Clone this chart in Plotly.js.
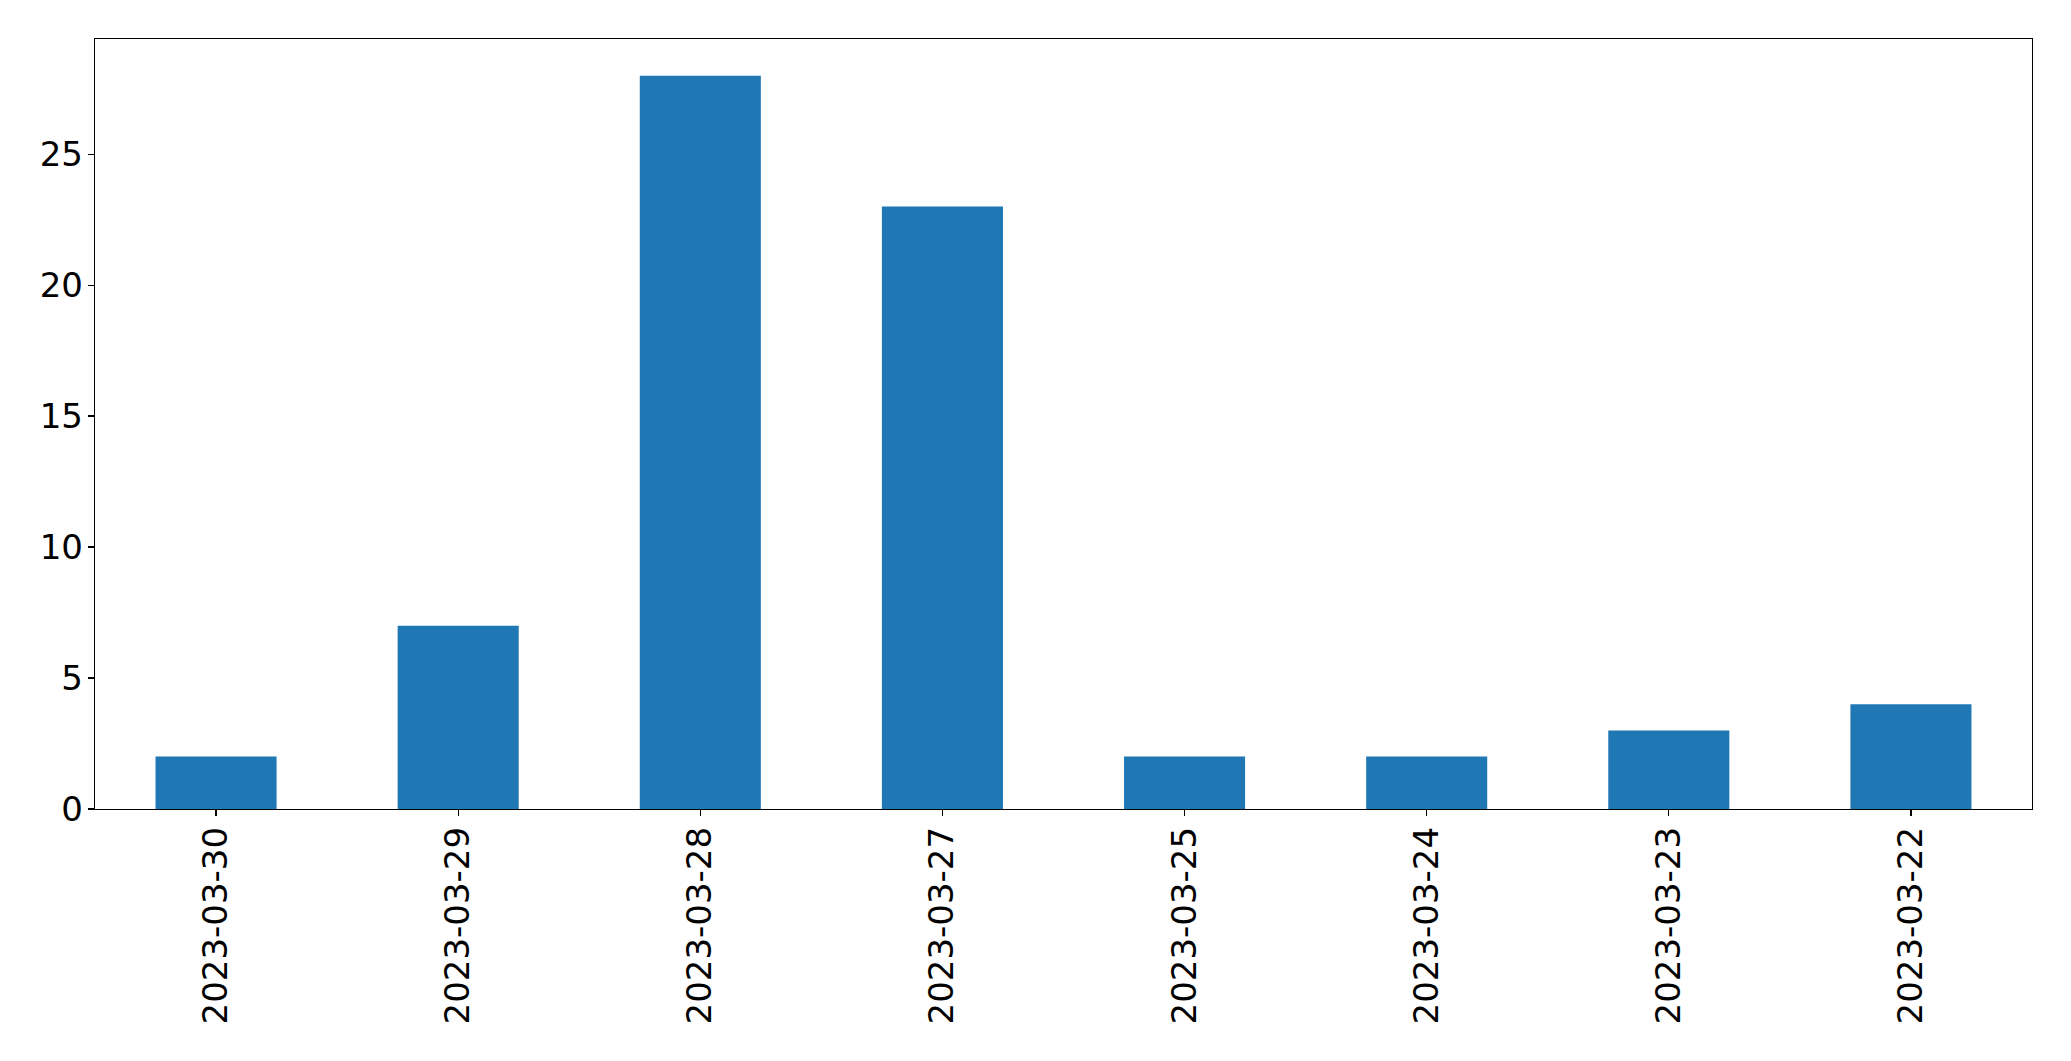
<!DOCTYPE html>
<html>
<head>
<meta charset="utf-8">
<script src="https://cdn.plot.ly/plotly-3.0.1.min.js"></script>
<style>
html,body{margin:0;padding:0;background:#fff;}
#chart{width:2071px;height:1061px;}
</style>
</head>
<body>
<div id="chart"></div>
<script>
const dates = ["2023-03-30","2023-03-29","2023-03-28","2023-03-27","2023-03-25","2023-03-24","2023-03-23","2023-03-22"];
const counts = [2, 7, 28, 23, 2, 2, 3, 4];
const yTicks = [0, 5, 10, 15, 20, 25];

const trace = {
  type: 'bar',
  x: dates,
  y: counts,
  width: 0.5,
  marker: {color: '#1f77b4', line: {width: 0}},
  hoverinfo: 'x+y'
};

const layout = {
  width: 2071,
  height: 1061,
  margin: {l: 95, r: 39, t: 39, b: 252, pad: 0},
  paper_bgcolor: '#ffffff',
  plot_bgcolor: '#ffffff',
  showlegend: false,
  font: {family: 'DejaVu Sans, sans-serif', size: 34, color: '#000'},
  xaxis: {
    type: 'category',
    range: [-0.5, 7.5],
    showgrid: false,
    zeroline: false,
    showline: true,
    mirror: true,
    linecolor: '#000',
    linewidth: 1.3,
    ticks: 'outside',
    ticklen: 6,
    tickwidth: 1.3,
    tickcolor: '#000',
    tickangle: -90,
    ticklabelstandoff: -3,
    tickfont: {family: 'DejaVu Sans, sans-serif', size: 34, color: '#000'}
  },
  yaxis: {
    range: [0, 29.4],
    tickmode: 'array',
    tickvals: yTicks,
    ticktext: yTicks.map(String),
    showgrid: false,
    zeroline: false,
    showline: true,
    mirror: true,
    linecolor: '#000',
    linewidth: 1.3,
    ticks: 'outside',
    ticklen: 6,
    tickwidth: 1.3,
    tickcolor: '#000',
    ticklabelstandoff: -2,
    tickfont: {family: 'DejaVu Sans, sans-serif', size: 34, color: '#000'}
  }
};

Plotly.newPlot('chart', [trace], layout, {displayModeBar: false, staticPlot: true});
</script>
</body>
</html>
